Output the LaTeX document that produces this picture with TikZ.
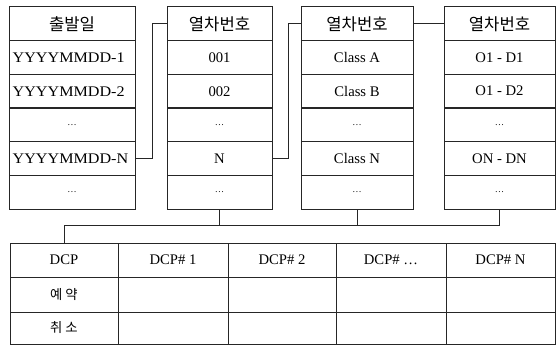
\documentclass[tikz,border=0pt]{standalone}
\usepackage{fontspec}
\setmainfont{Liberation Serif}
\newfontfamily\kr{Noto Sans CJK KR}
\newfontfamily\widefont[FakeStretch=1.1]{Liberation Serif}
\begin{document}
\begin{tikzpicture}[x=0.75pt,y=-0.75pt,
  every node/.style={font=\fontsize{11pt}{13pt}\selectfont},
  cell/.style={draw=black!85, line width=0.75pt, minimum height=25.25pt, inner sep=1pt, anchor=center},
  tcell/.style={draw=black!85, line width=0.75pt, inner sep=1pt, anchor=center},
  link/.style={draw=black!85, line width=0.75pt},
  hdr/.style={font=\kr\fontsize{12.5pt}{14pt}\selectfont},
  wide/.style={text width=90pt, align=left, font=\widefont\fontsize{11pt}{13pt}\selectfont},
  dots/.style={font=\fontsize{7pt}{8pt}\selectfont}]
\useasboundingbox (0,0) rectangle (559,345);
% column 1
\node[cell,minimum width=94.5pt,hdr] (a0) at (72,23.8) {출발일};
\node[cell,minimum width=94.5pt,wide] (a1) at (72,57.5) {\hspace*{0.5pt}YYYYMMDD-1};
\node[cell,minimum width=94.5pt,wide] (a2) at (72,91.2) {\hspace*{0.5pt}YYYYMMDD-2};
\node[cell,minimum width=94.5pt,dots] (a3) at (72,124.8) {\ldots};
\node[cell,minimum width=94.5pt,wide] (a4) at (72,158.5) {\hspace*{0.5pt}YYYYMMDD-N};
\node[cell,minimum width=94.5pt,dots] (a5) at (72,192.2) {\ldots};
% column 2
\node[cell,minimum width=78.75pt,hdr] (b0) at (219.5,23.8) {열차번호};
\node[cell,minimum width=78.75pt] (b1) at (219.5,57.5) {001};
\node[cell,minimum width=78.75pt] (b2) at (219.5,91.2) {002};
\node[cell,minimum width=78.75pt,dots] (b3) at (219.5,124.8) {\ldots};
\node[cell,minimum width=78.75pt] (b4) at (219.5,158.5) {N};
\node[cell,minimum width=78.75pt,dots] (b5) at (219.5,192.2) {\ldots};
% column 3
\node[cell,minimum width=84pt,hdr] (c0) at (357,23.8) {열차번호};
\node[cell,minimum width=84pt] (c1) at (357,57.5) {Class A};
\node[cell,minimum width=84pt] (c2) at (357,91.2) {Class B};
\node[cell,minimum width=84pt,dots] (c3) at (357,124.8) {\ldots};
\node[cell,minimum width=84pt] (c4) at (357,158.5) {Class N};
\node[cell,minimum width=84pt,dots] (c5) at (357,192.2) {\ldots};
% column 4
\node[cell,minimum width=83.25pt,hdr] (d0) at (499.5,23.8) {열차번호};
\node[cell,minimum width=83.25pt] (d1) at (499.5,57.5) {O1 - D1};
\node[cell,minimum width=83.25pt] (d2) at (499.5,91.2) {O1 - D2};
\node[cell,minimum width=83.25pt,dots] (d3) at (499.5,124.8) {\ldots};
\node[cell,minimum width=83.25pt] (d4) at (499.5,158.5) {ON - DN};
\node[cell,minimum width=83.25pt,dots] (d5) at (499.5,192.2) {\ldots};
% table header row
\node[tcell,minimum width=81pt,minimum height=25.5pt] (e0) at (64,260) {DCP};
\node[tcell,minimum width=82.5pt,minimum height=25.5pt] (e1) at (173,260) {DCP\# 1};
\node[tcell,minimum width=81pt,minimum height=25.5pt] (e2) at (282,260) {DCP\# 2};
\node[tcell,minimum width=82.5pt,minimum height=25.5pt] (e3) at (391,260) {DCP\# \ldots};
\node[tcell,minimum width=81.75pt,minimum height=25.5pt] (e4) at (500.5,260) {DCP\# N};
% row 2
\node[tcell,minimum width=81pt,minimum height=26.25pt,font=\kr\fontsize{10pt}{11pt}\selectfont] (f0) at (64,294.5) {예 약};
\node[tcell,minimum width=82.5pt,minimum height=26.25pt] (f1) at (173,294.5) {};
\node[tcell,minimum width=81pt,minimum height=26.25pt] (f2) at (282,294.5) {};
\node[tcell,minimum width=82.5pt,minimum height=26.25pt] (f3) at (391,294.5) {};
\node[tcell,minimum width=81.75pt,minimum height=26.25pt] (f4) at (500.5,294.5) {};
% row 3
\node[tcell,minimum width=81pt,minimum height=24pt,font=\kr\fontsize{10pt}{11pt}\selectfont] (g0) at (64,328) {취 소};
\node[tcell,minimum width=82.5pt,minimum height=24pt] (g1) at (173,328) {};
\node[tcell,minimum width=81pt,minimum height=24pt] (g2) at (282,328) {};
\node[tcell,minimum width=82.5pt,minimum height=24pt] (g3) at (391,328) {};
\node[tcell,minimum width=81.75pt,minimum height=24pt] (g4) at (500.5,328) {};
% connectors
\coordinate (j1) at (152,0);
\coordinate (j2) at (288,0);
\coordinate (bus) at (0,225);
\draw[link] (a4.east) -- (a4.east -| j1) -- (b0.west -| j1) -- (b0.west);
\draw[link] (b4.east) -- (b4.east -| j2) -- (c0.west -| j2) -- (c0.west);
\draw[link] (c0.east) -- (d0.west);
\draw[link] (e0.north) -- (e0.north |- bus) -- (d5.south |- bus) -- (d5.south);
\draw[link] (b5.south) -- (b5.south |- bus);
\draw[link] (c5.south) -- (c5.south |- bus);
\end{tikzpicture}
\end{document}
